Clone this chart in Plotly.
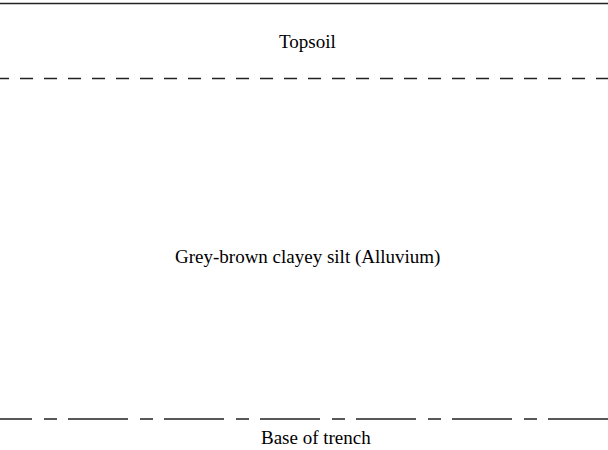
import plotly.graph_objects as go

# Section extent (horizontal) and layer boundaries (depth, same units as the drawing)
section_x = [-28, 640]
boundary_names = ["Ground surface", "Base of topsoil", "Base of trench"]
boundary_depths = [3.5, 78.5, 419]
boundary_dash = ["solid", "13px,11px", "60px,12px,13px,11px"]

# Layer labels
label_texts = ["Topsoil", "Grey-brown clayey silt (Alluvium)", "Base of trench"]
label_x = [307, 307, 315.5]
label_y = [41, 257, 437]

fig = go.Figure()
for name, d, dash in zip(boundary_names, boundary_depths, boundary_dash):
    fig.add_trace(go.Scatter(
        x=section_x, y=[d, d], mode="lines", name=name,
        line=dict(color="#222222", width=1.3, dash=dash),
        hoverinfo="skip", showlegend=False,
    ))

for t, x, y in zip(label_texts, label_x, label_y):
    fig.add_annotation(x=x, y=y, text=t, showarrow=False,
                       xanchor="center", yanchor="middle",
                       font=dict(family="Liberation Serif, Times New Roman, serif",
                                 size=19, color="#000000"))

fig.update_layout(
    width=608, height=450,
    margin=dict(l=0, r=0, t=0, b=0),
    paper_bgcolor="white", plot_bgcolor="white",
    xaxis=dict(range=[0, 608], visible=False, fixedrange=True),
    yaxis=dict(range=[450, 0], visible=False, fixedrange=True),
)

fig.write_html("out.html",
               config={"displayModeBar": False},
               post_script="document.body.style.margin='0px';document.body.style.overflow='hidden';")
